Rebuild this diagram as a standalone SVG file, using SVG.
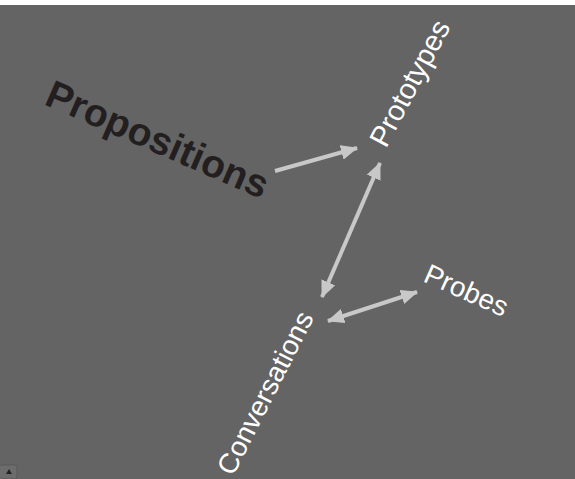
<svg xmlns="http://www.w3.org/2000/svg" width="575" height="479" viewBox="0 0 575 479">
<defs>
<style>
.conn{stroke:#c8c8c8;stroke-width:4;fill:none}
.lbl{font-family:"Liberation Sans",Arial,sans-serif;font-size:28px;fill:#ffffff}
.big{font-family:"Liberation Sans",Arial,sans-serif;font-size:39px;font-weight:bold;fill:#231f20}
</style>
<marker id="ah" viewBox="0 0 17 15" refX="16" refY="7.5" markerWidth="17" markerHeight="15" markerUnits="userSpaceOnUse" orient="auto-start-reverse">
<path d="M0,0 L17,7.5 L0,15 Z" fill="#c8c8c8"/>
</marker>
</defs>
<rect x="0" y="0" width="575" height="479" fill="#ffffff"/>
<rect x="0" y="5" width="575" height="474" fill="#646464"/>
<g id="propositions"><text class="big" transform="translate(43,104) rotate(23.5)">Propositions</text></g>
<g id="prototypes"><text class="lbl" style="font-size:29px" transform="translate(386,149) rotate(-62)">Prototypes</text></g>
<g id="conversations"><text class="lbl" transform="translate(233,477) rotate(-63)">Conversations</text></g>
<g id="probes"><text class="lbl" transform="translate(422,281) rotate(24)">Probes</text></g>
<g id="connectors">
<line class="conn" x1="275" y1="171" x2="357" y2="148" marker-end="url(#ah)"/>
<line class="conn" x1="380" y1="163" x2="322" y2="297" marker-start="url(#ah)" marker-end="url(#ah)"/>
<line class="conn" x1="328" y1="321" x2="417" y2="292" marker-start="url(#ah)" marker-end="url(#ah)"/>
</g>
<g id="button">
<rect x="-3" y="465" width="20" height="14" rx="2" fill="#6c6c6c" stroke="#585858" stroke-width="1"/>
<path d="M6,474 L9,469 L12,474 Z" fill="#222"/>
</g>
</svg>
